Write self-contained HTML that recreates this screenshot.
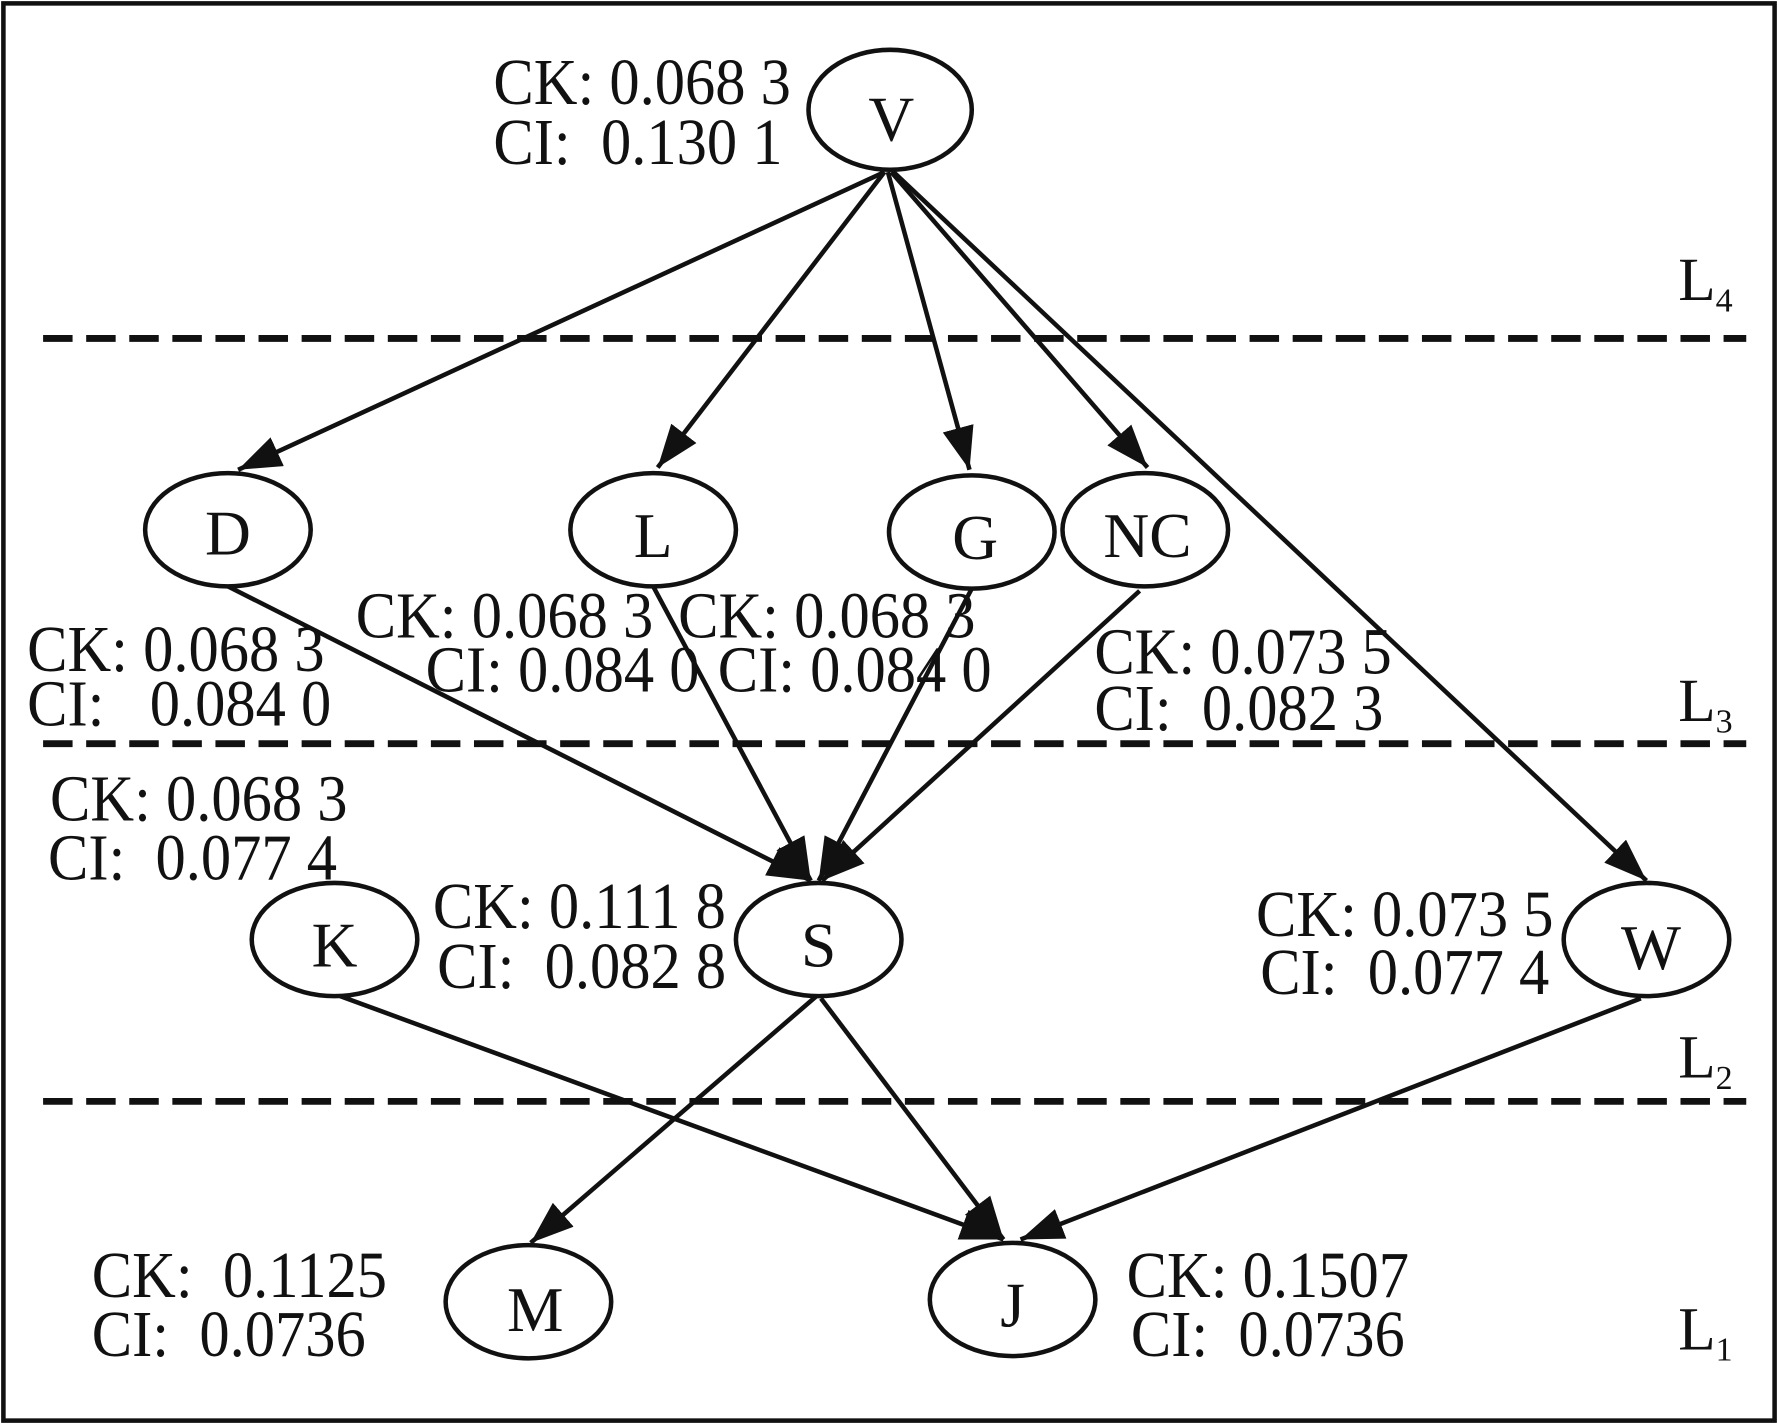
<!DOCTYPE html>
<html><head><meta charset="utf-8"><style>
html,body{margin:0;padding:0;background:#fff;}
svg{display:block;}
text{font-family:"Liberation Serif",serif;font-size:50px;fill:#111;white-space:pre;}
.nd text{font-size:56px;}
.lb text{font-size:58px;}
</style></head><body>
<svg width="1778" height="1424" viewBox="0 0 1568 1258" preserveAspectRatio="none">
<defs>
<marker id="a" markerUnits="userSpaceOnUse" markerWidth="40" markerHeight="28" refX="38" refY="14" orient="auto">
<path d="M0,0 L38,14 L0,28 Z" fill="#111"/>
</marker>
</defs>
<rect x="3" y="3" width="1562" height="1252" fill="none" stroke="#111" stroke-width="4"/>
<g stroke="#111" stroke-width="6" stroke-dasharray="26 12">
<line x1="38" y1="299" x2="1540" y2="299"/>
<line x1="38" y1="657" x2="1540" y2="657"/>
<line x1="38" y1="973" x2="1540" y2="973"/>
</g>
<g stroke="#111" stroke-width="4" fill="none" marker-end="url(#a)">
<line x1="780" y1="152" x2="210" y2="415"/>
<line x1="780" y1="152" x2="580" y2="413"/>
<line x1="783" y1="152" x2="855" y2="415"/>
<line x1="786" y1="152" x2="1012" y2="413"/>
<line x1="788" y1="152" x2="1452" y2="778"/>
<line x1="201" y1="518" x2="715" y2="778"/>
<line x1="576" y1="518" x2="715" y2="778"/>
<line x1="857" y1="520" x2="722" y2="778"/>
<line x1="1005" y1="522" x2="725" y2="778"/>
<line x1="300" y1="880" x2="885" y2="1095"/>
<line x1="720" y1="880" x2="468" y2="1098"/>
<line x1="724" y1="882" x2="885" y2="1095"/>
<line x1="1447" y1="882" x2="900" y2="1095"/>
</g>
<g stroke="#111" stroke-width="4" fill="#fff">
<ellipse cx="785" cy="97" rx="72" ry="53"/>
<ellipse cx="201" cy="468" rx="73" ry="50"/>
<ellipse cx="576" cy="468" rx="73" ry="50"/>
<ellipse cx="857" cy="470" rx="73" ry="50"/>
<ellipse cx="1010" cy="468" rx="73" ry="50"/>
<ellipse cx="295" cy="830" rx="73" ry="50"/>
<ellipse cx="722" cy="830" rx="73" ry="50"/>
<ellipse cx="1452" cy="830" rx="73" ry="50"/>
<ellipse cx="466" cy="1150" rx="73" ry="50"/>
<ellipse cx="893" cy="1148" rx="73" ry="50"/>
</g>
<g class="nd" text-anchor="middle">
<text x="786" y="124">V</text>
<text x="201" y="490">D</text>
<text x="576" y="492">L</text>
<text x="860" y="494">G</text>
<text x="1012" y="492">NC</text>
<text x="295" y="854">K</text>
<text x="722" y="854">S</text>
<text x="1456" y="856">W</text>
<text x="472" y="1176">M</text>
<text x="893" y="1172">J</text>
</g>
<g class="lb" transform="scale(0.92,1)">
<text x="473" y="92">CK: 0.068 3</text>
<text x="473" y="145">CI:  0.130 1</text>
<text x="26" y="593">CK: 0.068 3</text>
<text x="26" y="641">CI:   0.084 0</text>
<text x="341" y="563">CK: 0.068 3</text>
<text x="408" y="611">CI: 0.084 0</text>
<text x="650" y="563">CK: 0.068 3</text>
<text x="688" y="611">CI: 0.084 0</text>
<text x="1049" y="595">CK: 0.073 5</text>
<text x="1049" y="645">CI:  0.082 3</text>
<text x="48" y="725">CK: 0.068 3</text>
<text x="46" y="777">CI:  0.077 4</text>
<text x="415" y="820">CK: 0.111 8</text>
<text x="419" y="873">CI:  0.082 8</text>
<text x="1204" y="827">CK: 0.073 5</text>
<text x="1208" y="878">CI:  0.077 4</text>
<text x="88" y="1146">CK:  0.1125</text>
<text x="88" y="1198">CI:  0.0736</text>
<text x="1080" y="1146">CK: 0.1507</text>
<text x="1084" y="1198">CI:  0.0736</text>
</g>
<text x="1480" y="265" style="font-size:54px">L<tspan font-size="30" dy="10">4</tspan></text>
<text x="1480" y="637" style="font-size:54px">L<tspan font-size="30" dy="10">3</tspan></text>
<text x="1480" y="952" style="font-size:54px">L<tspan font-size="30" dy="10">2</tspan></text>
<text x="1480" y="1192" style="font-size:54px">L<tspan font-size="30" dy="10">1</tspan></text>
</svg>
</body></html>
